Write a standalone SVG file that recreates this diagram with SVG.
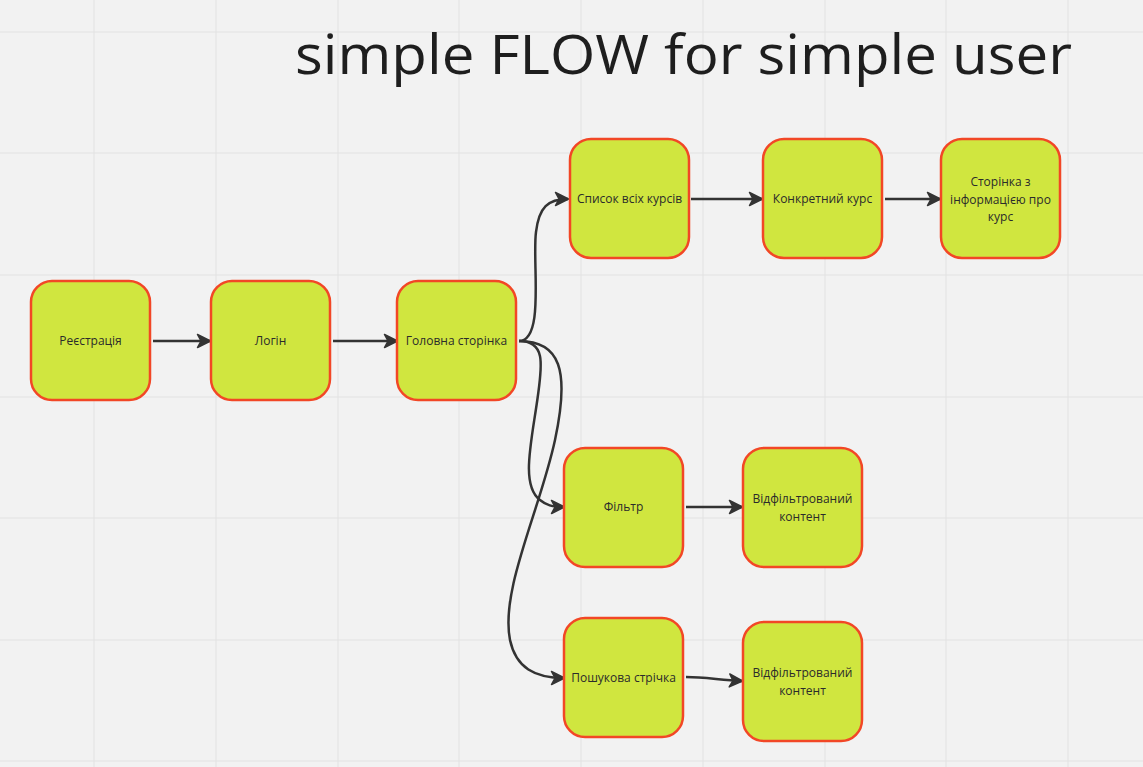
<svg xmlns="http://www.w3.org/2000/svg" width="1143" height="767" viewBox="0 0 1143 767">
<defs>
<style>
.grid line{stroke:#e2e2e2;stroke-width:1}
.node rect{fill:#d0e63f;stroke:#f24726;stroke-width:2.5}
.node text{font-family:"Open Sans","Noto Sans",sans-serif;font-size:12px;fill:#2b2b2b;text-anchor:middle}
.conn path{fill:none;stroke:#333333;stroke-width:2.5;marker-end:url(#arr)}
.title{font-family:"Open Sans","Noto Sans",sans-serif;font-size:55px;fill:#1e1e1e}
</style>
<marker id="arr" viewBox="0 0 16 16" refX="14" refY="8" markerWidth="16" markerHeight="16" markerUnits="userSpaceOnUse" orient="auto">
<path d="M1.5,1.5 L14.5,8 L1.5,14.5 L5,8 z" fill="#333333" stroke="#333333" stroke-width="1.5" stroke-linejoin="round"/>
</marker>
</defs>
<rect width="1143" height="767" fill="#f2f2f2"/>
<g class="grid">
<line x1="94" y1="0" x2="94" y2="767"/><line x1="216" y1="0" x2="216" y2="767"/><line x1="338" y1="0" x2="338" y2="767"/><line x1="459" y1="0" x2="459" y2="767"/><line x1="581" y1="0" x2="581" y2="767"/><line x1="703" y1="0" x2="703" y2="767"/><line x1="825" y1="0" x2="825" y2="767"/><line x1="946" y1="0" x2="946" y2="767"/><line x1="1068" y1="0" x2="1068" y2="767"/>
<line x1="0" y1="32" x2="1143" y2="32"/><line x1="0" y1="153" x2="1143" y2="153"/><line x1="0" y1="275" x2="1143" y2="275"/><line x1="0" y1="397" x2="1143" y2="397"/><line x1="0" y1="518" x2="1143" y2="518"/><line x1="0" y1="640" x2="1143" y2="640"/><line x1="0" y1="761" x2="1143" y2="761"/>
</g>
<text class="title" x="295" y="74" textLength="777" lengthAdjust="spacingAndGlyphs">simple FLOW for simple user</text>
<g class="conn">
<path d="M153,341 L210,341"/>
<path d="M333,341 L397,341"/>
<path d="M519,341 C545,341 532,262 536,232 C539,207 548,199 568,199"/>
<path d="M519,341 C546,341 542,365 538,395 C532,440 520,485 540,500 C546,505 552,507 564,507"/>
<path d="M519,341 C560,341 570,370 555,440 C540,510 500,590 510,640 C516,668 535,678 564,678"/>
<path d="M691,199 L762,199"/>
<path d="M885,199 L940,199"/>
<path d="M686,507 L742,507"/>
<path d="M686,677 C705,677 720,680 742,681"/>
</g>
<g id="n1" class="node"><rect x="31" y="281" width="119" height="119" rx="21"/><text x="90.5" y="345">Реєстрація</text></g>
<g id="n2" class="node"><rect x="211" y="281" width="119" height="119" rx="21"/><text x="270.5" y="345">Логін</text></g>
<g id="n3" class="node"><rect x="397" y="281" width="119" height="119" rx="21"/><text x="456.5" y="345">Головна сторінка</text></g>
<g id="n4" class="node"><rect x="570" y="139" width="119" height="119" rx="21"/><text x="629.5" y="203">Список всіх курсів</text></g>
<g id="n5" class="node"><rect x="763" y="139" width="119" height="119" rx="21"/><text x="822.5" y="203">Конкретний курс</text></g>
<g id="n6" class="node"><rect x="941" y="139" width="119" height="119" rx="21"/><text x="1000.5" y="186">Сторінка з</text><text x="1000.5" y="203.5">інформацією про</text><text x="1000.5" y="221">курс</text></g>
<g id="n7" class="node"><rect x="564" y="448" width="119" height="119" rx="21"/><text x="623.5" y="511">Фільтр</text></g>
<g id="n8" class="node"><rect x="743" y="448" width="119" height="119" rx="21"/><text x="802.5" y="503">Відфільтрований</text><text x="802.5" y="521">контент</text></g>
<g id="n9" class="node"><rect x="564" y="618" width="119" height="119" rx="21"/><text x="623.5" y="682">Пошукова стрічка</text></g>
<g id="n10" class="node"><rect x="743" y="622" width="119" height="119" rx="21"/><text x="802.5" y="677">Відфільтрований</text><text x="802.5" y="695">контент</text></g>
</svg>
